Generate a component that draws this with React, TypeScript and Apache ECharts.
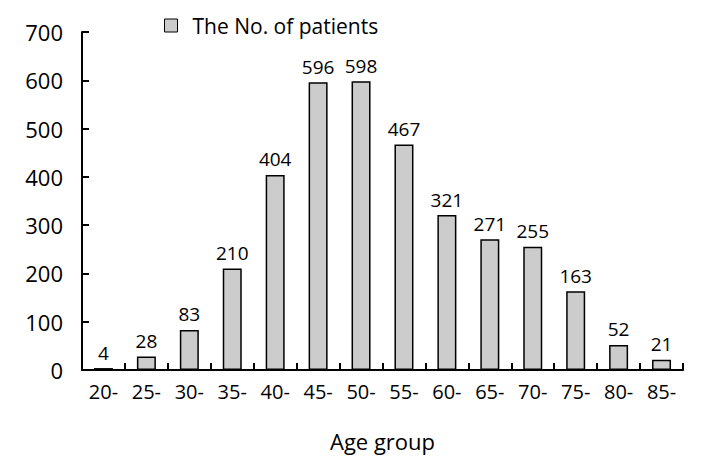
import React, { useEffect, useRef } from "react";
import * as echarts from "echarts";

const categories = ["20-", "25-", "30-", "35-", "40-", "45-", "50-", "55-", "60-", "65-", "70-", "75-", "80-", "85-"];
const patients = [4, 28, 83, 210, 404, 596, 598, 467, 321, 271, 255, 163, 52, 21];
const seriesName = "The No. of patients";
const xAxisTitle = "Age group";

const FONT = "'Open Sans', 'Noto Sans', sans-serif";

export default function App() {
  const ref = useRef<HTMLDivElement>(null);
  useEffect(() => {
    if (!ref.current) return;
    const chart = echarts.init(ref.current, undefined, { renderer: "svg" });
    chart.setOption({
      animation: false,
      backgroundColor: "#ffffff",
      legend: {
        data: [seriesName],
        left: 159,
        top: 10,
        itemWidth: 13,
        itemHeight: 13,
        itemGap: 8,
        icon: "rect",
        textStyle: { fontFamily: FONT, fontSize: 21, color: "#000", padding: [0, 0, 0, 10] },
        itemStyle: { color: "#cccccc", borderColor: "#000", borderWidth: 1 },
      },
      grid: { left: 82, right: 21, top: 32, bottom: 91, containLabel: false },
      xAxis: {
        type: "category",
        data: categories,
        boundaryGap: true,
        name: xAxisTitle,
        nameLocation: "middle",
        nameGap: 60,
        nameTextStyle: { fontFamily: FONT, fontSize: 22, color: "#000" },
        axisLine: { lineStyle: { color: "#000", width: 2 } },
        axisTick: { show: true, inside: true, length: 7, lineStyle: { color: "#000", width: 2 }, alignWithLabel: false },
        axisLabel: { fontFamily: FONT, fontSize: 20, color: "#000", margin: 11 },
      },
      yAxis: {
        type: "value",
        min: 0,
        max: 700,
        interval: 100,
        splitLine: { show: false },
        axisLine: { show: true, lineStyle: { color: "#000", width: 2 } },
        axisTick: { show: true, inside: true, length: 7, lineStyle: { color: "#000", width: 2 } },
        axisLabel: { fontFamily: FONT, fontSize: 22, color: "#000", margin: 19 },
      },
      series: [
        {
          name: seriesName,
          type: "bar",
          data: patients,
          barWidth: 19,
          itemStyle: { color: "#cccccc", borderColor: "#000", borderWidth: 1.5 },
          label: {
            show: true,
            position: "top",
            distance: 6,
            fontFamily: FONT,
            fontSize: 19,
            color: "#000",
          },
        },
      ],
    });
    return () => chart.dispose();
  }, []);
  return <div ref={ref} style={{ width: 704, height: 461, position: "absolute", left: 0, top: 0 }} />;
}
